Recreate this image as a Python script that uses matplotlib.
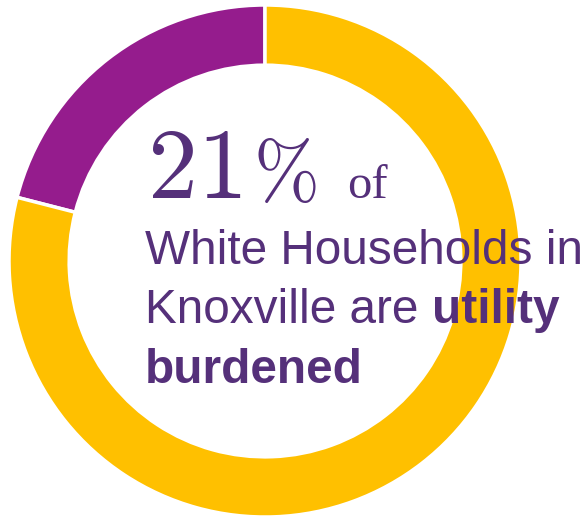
import matplotlib.pyplot as plt

# share of households
groups = ["Utility burdened", "Not burdened"]
shares = [21, 79]
colors = ["#951C8D", "#FFC000"]
text_color = "#55307A"

fig = plt.figure(figsize=(5.87, 5.18), dpi=100)
ax = fig.add_axes([9 / 587, 1 / 518, 512 / 587, 512 / 518])
ax.pie(shares, colors=colors, startangle=90, counterclock=True,
       radius=1.0, wedgeprops=dict(width=0.235, edgecolor="white", linewidth=2.5))
ax.set_xlim(-1, 1)
ax.set_ylim(-1, 1)
ax.set_aspect("equal")
ax.axis("off")

H = 518
# big number: digits and percent sign in computer modern
ax.annotate(r"$%d$" % shares[0], xy=(147, H - 198), xycoords="figure pixels",
            fontsize=72, color=text_color, math_fontfamily="cm",
            ha="left", va="baseline")
ax.annotate(r"$\%$", xy=(253, H - 198), xycoords="figure pixels",
            fontsize=57, color=text_color, math_fontfamily="cm",
            ha="left", va="baseline")
ax.annotate("of", xy=(347, H - 198), xycoords="figure pixels",
            fontsize=35, color=text_color, family="Liberation Serif",
            ha="left", va="baseline")

sans = "Liberation Sans"
fs = 34.4
ax.annotate("White Households in", xy=(145, H - 264), xycoords="figure pixels",
            fontsize=fs, color=text_color, family=sans, ha="left", va="baseline")
t1 = ax.annotate("Knoxville are ", xy=(145, H - 323), xycoords="figure pixels",
                 fontsize=fs, color=text_color, family=sans, ha="left", va="baseline")
ax.annotate("utility", xy=(1, 0), xycoords=t1,
            fontsize=fs, color=text_color, family=sans, fontweight="bold",
            ha="left", va="bottom")
ax.annotate("burdened", xy=(145, H - 383), xycoords="figure pixels",
            fontsize=fs, color=text_color, family=sans, fontweight="bold",
            ha="left", va="baseline")

fig.savefig("out.png", dpi=100)
